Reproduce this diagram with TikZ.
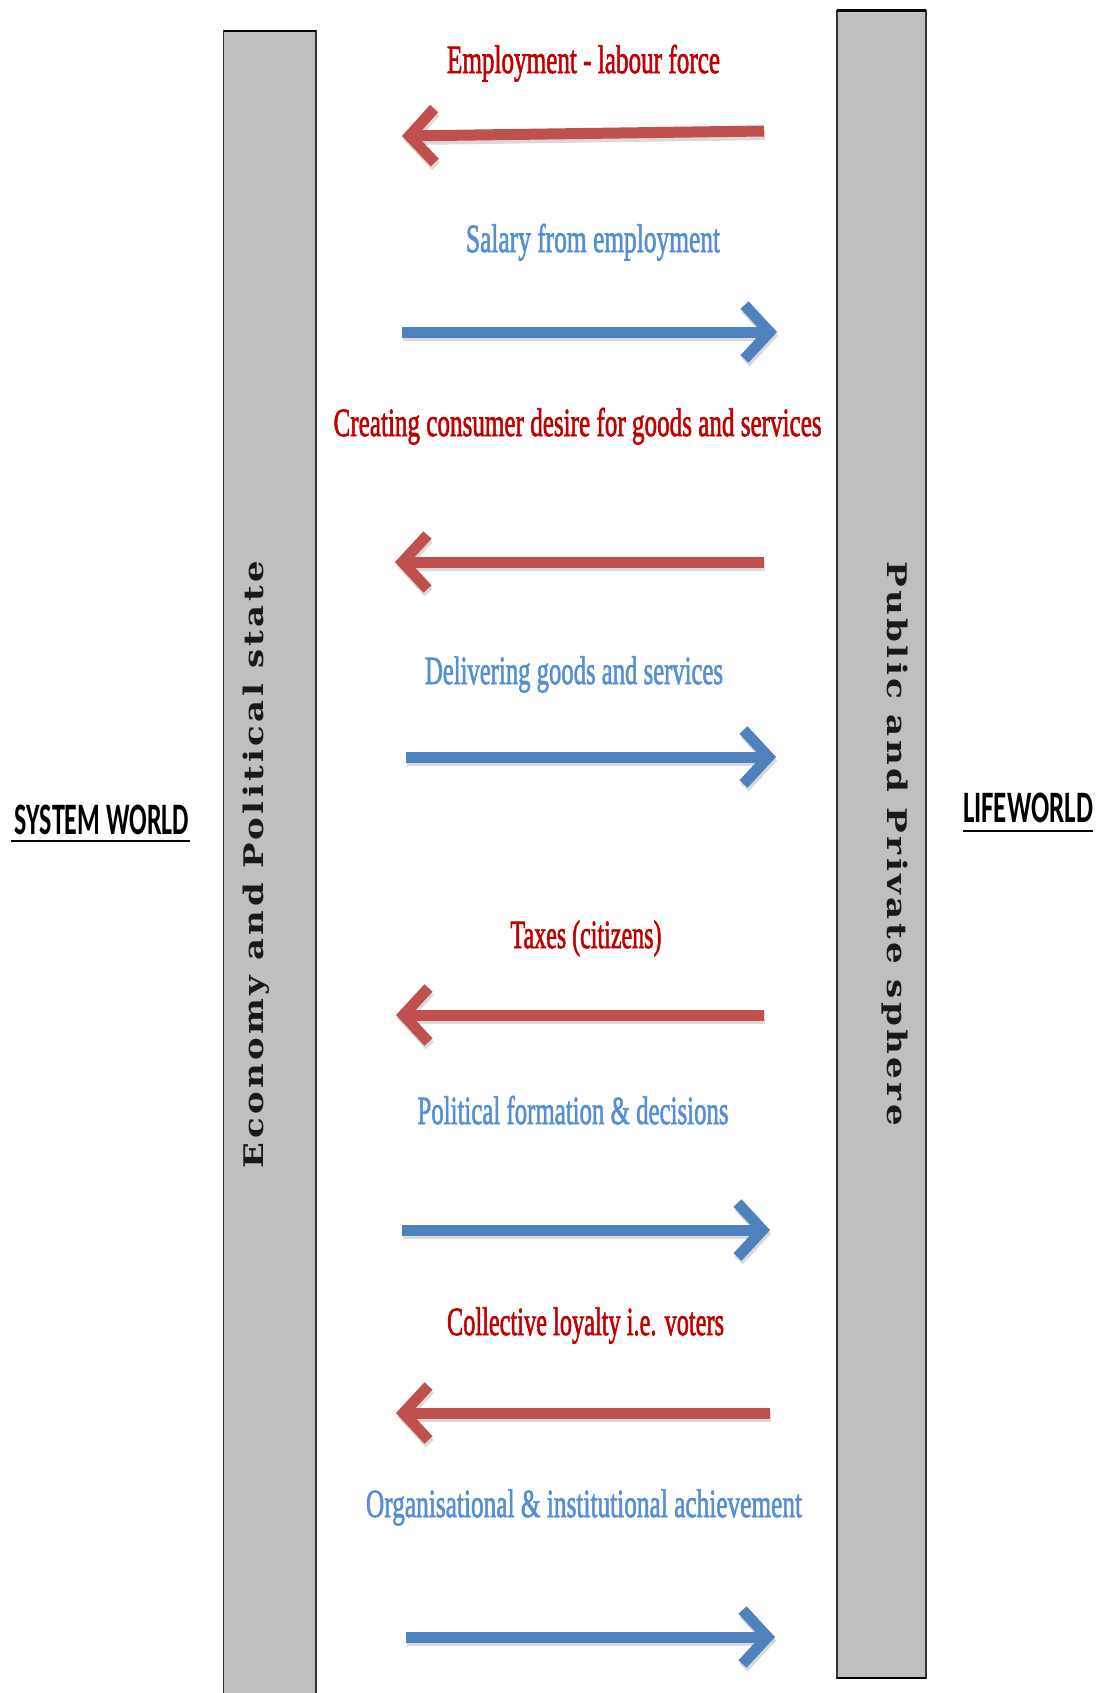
\documentclass[tikz,border=0pt]{standalone}
\usepackage{fontspec}
\usepackage{graphicx}
\setmainfont{Liberation Serif}
\newfontfamily\labelfont[FakeBold=2]{Liberation Serif}
\newfontfamily\barfont[LetterSpace=10]{DejaVu Serif}
\newfontfamily\headfont{Carlito}
\usetikzlibrary{arrows.meta,calc}

\definecolor{barfill}{HTML}{BFBFBF}
\definecolor{redarrow}{HTML}{C0504D}
\definecolor{bluearrow}{HTML}{4F81BD}
\definecolor{redtext}{HTML}{C00000}
\definecolor{bluetext}{HTML}{558ED5}

% set a text at a given width, keeping its natural height
\newcommand{\fitw}[2]{\resizebox{#1}{\height}{#2}}

\begin{document}
\begin{tikzpicture}[x=0.5pt,y=-0.5pt,
  flowlabel/.style={inner sep=0pt, anchor=base, font=\labelfont\fontsize{20}{24}\selectfont},
  redlabel/.style={flowlabel, text=redtext},
  bluelabel/.style={flowlabel, text=bluetext},
  flow/.style={line width=5.5pt, -{Straight Barb[length=12.5pt,width=27pt]}},
  bar/.style={fill=barfill, draw=black!80, line width=0.75pt},
  barcap/.style={draw=black, line width=1.4pt},
  bartext/.style={inner sep=0pt, anchor=base, text=black!90,
    font=\barfont\bfseries\fontsize{13.5}{16}\selectfont},
  heading/.style={inner sep=0pt, anchor=base, text=black,
    font=\headfont\bfseries\fontsize{22.5}{26}\selectfont},
  rule/.style={draw=black, line width=1.2pt}]

\useasboundingbox (0,0) rectangle (1098,1693);

% the two spheres
\draw[bar] (223.5,31) rectangle (316,1710);
\draw[barcap] (223.5,31) -- (316,31);
\draw[bar] (837,10.5) rectangle (926,1678);
\draw[barcap] (837,10.5) -- (926,10.5);
\draw[barcap] (837,1678) -- (926,1678);

\node[bartext, rotate=90] (econ) at (263,864.5)
  {\fitw{303.5pt}{Economy and Political state}};
\node[bartext, rotate=-90] (pub) at (887,843.5)
  {\fitw{282.5pt}{Public and Private sphere}};

% side headings
\node[heading] (sysw) at (102,834) {\fitw{87pt}{SYSTEM WORLD}};
\draw[rule] ($(sysw.base west)+(-4,7)$) -- ($(sysw.base east)+(1,7)$);
\node[heading] (lifew) at (1028,822) {\fitw{65pt}{LIFEWORLD}};
\draw[rule] ($(lifew.base west)+(0,9)$) -- ($(lifew.base east)+(0,9)$);

% exchange labels
\node[redlabel]  (l1) at (583.5,73)  {\fitw{136.5pt}{Employment - labour force}};
\node[bluelabel] (l2) at (593,252)   {\fitw{127pt}{Salary from employment}};
\node[redlabel]  (l3) at (577.6,436) {\fitw{244pt}{Creating consumer desire for goods and services}};
\node[bluelabel] (l4) at (574,684)   {\fitw{149pt}{Delivering goods and services}};
\node[redlabel]  (l5) at (586,948)   {\fitw{75.5pt}{Taxes (citizens)}};
\node[bluelabel] (l6) at (573,1124)  {\fitw{155.5pt}{Political formation \& decisions}};
\node[redlabel]  (l7) at (585.5,1335){\fitw{138.5pt}{Collective loyalty i.e. voters}};
\node[bluelabel] (l8) at (584,1517)  {\fitw{218pt}{Organisational \& institutional achievement}};

% arrow ends
\coordinate (r1s) at (764,131);  \coordinate (r1e) at (402,136);
\coordinate (b1s) at (402,332);  \coordinate (b1e) at (777,332);
\coordinate (r2s) at (764,562);  \coordinate (r2e) at (395,562);
\coordinate (b2s) at (406,757);  \coordinate (b2e) at (776,757);
\coordinate (r3s) at (764,1015); \coordinate (r3e) at (396,1015);
\coordinate (b3s) at (402,1230); \coordinate (b3e) at (770,1230);
\coordinate (r4s) at (770,1413); \coordinate (r4e) at (396,1413);
\coordinate (b4s) at (406,1637); \coordinate (b4e) at (775,1637);

\foreach \s/\e/\c in {r1s/r1e/redarrow, b1s/b1e/bluearrow, r2s/r2e/redarrow,
    b2s/b2e/bluearrow, r3s/r3e/redarrow, b3s/b3e/bluearrow,
    r4s/r4e/redarrow, b4s/b4e/bluearrow}{
  \draw[flow, draw=black, opacity=0.15, transform canvas={xshift=0.6pt,yshift=-1.8pt}] (\s) -- (\e);
  \draw[flow, draw=\c] (\s) -- (\e);
}
\end{tikzpicture}
\end{document}
